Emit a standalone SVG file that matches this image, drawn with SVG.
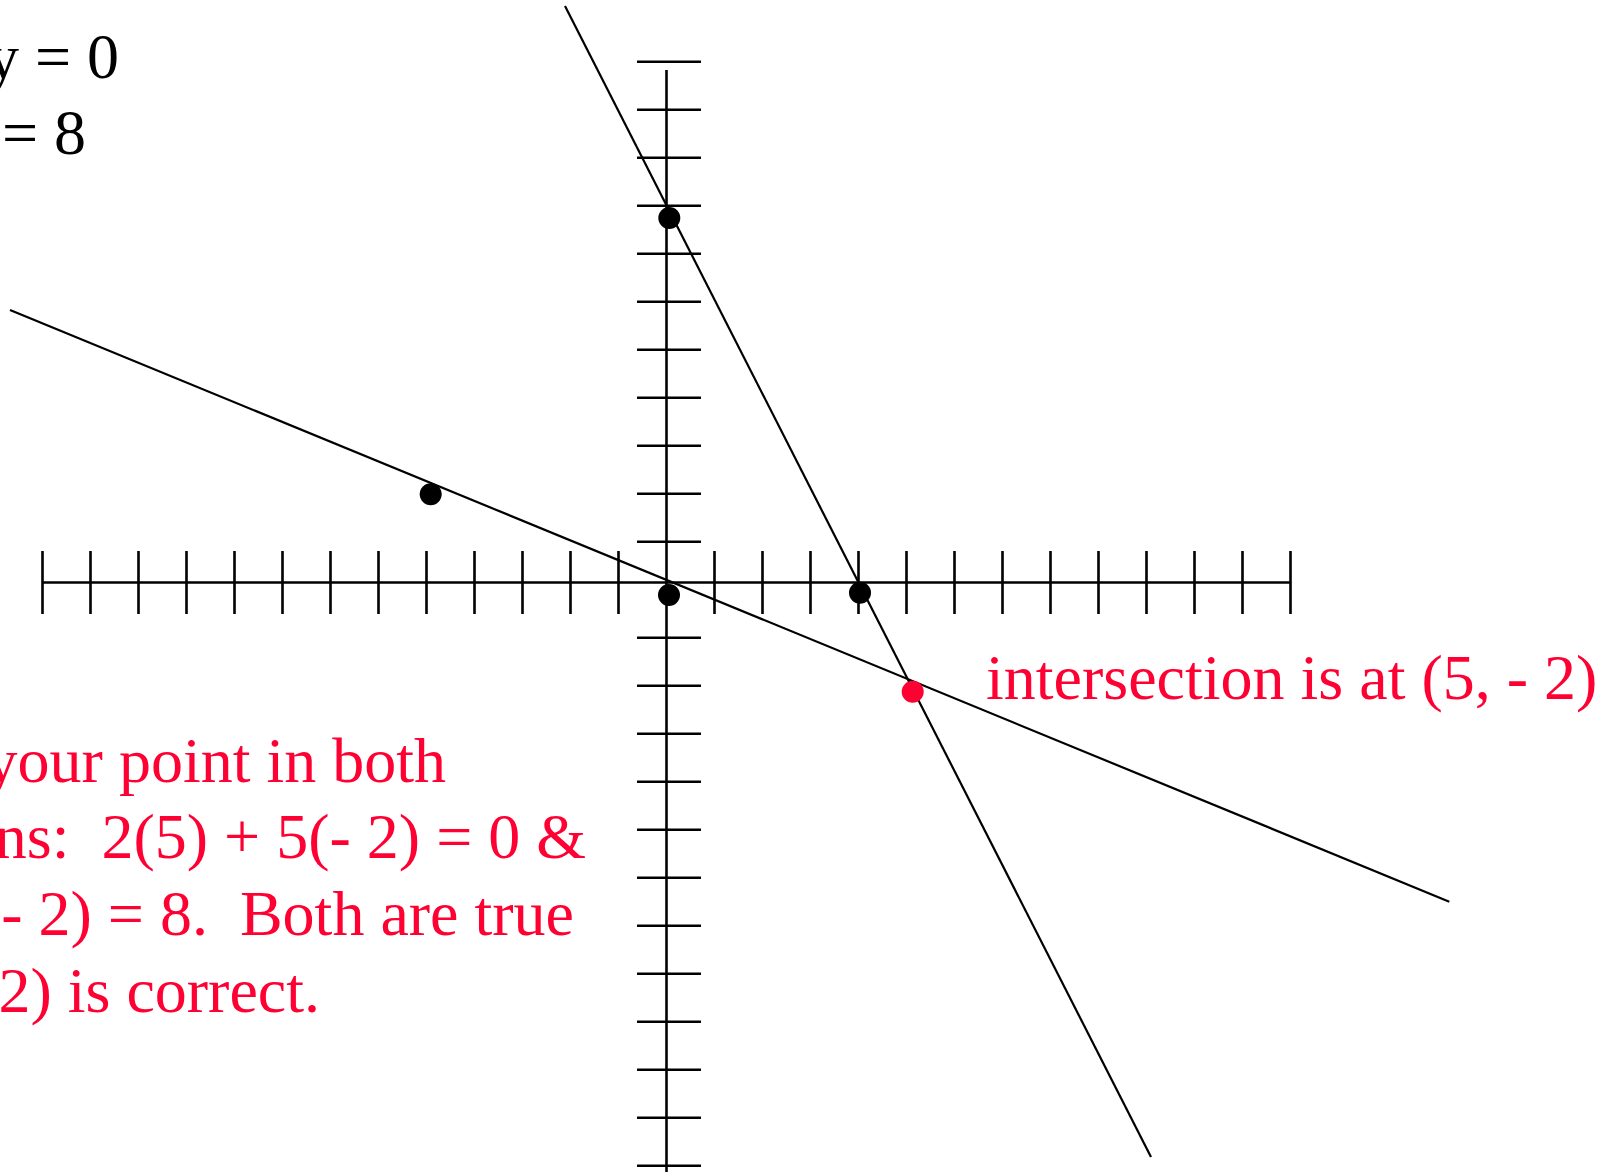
<svg xmlns="http://www.w3.org/2000/svg" width="1614" height="1172" viewBox="0 0 1614 1172">
<style>
.ax{stroke:#000;stroke-width:2.6;fill:none}
.ln{stroke:#000;stroke-width:2.2;fill:none}
.t{font-family:"Liberation Serif","Times New Roman",serif;font-size:64px}
.blk{fill:#000}
.red{fill:#ff0033}
</style>
<rect width="1614" height="1172" fill="#fff"/>
<g id="axes">
<line class="ax" x1="42.5" y1="582.5" x2="1290.5" y2="582.5"/>
<line class="ax" x1="666.5" y1="70" x2="666.5" y2="1172"/>
<path class="ax" d="M42.5 551v63M90.5 551v63M138.5 551v63M186.5 551v63M234.5 551v63M282.5 551v63M330.5 551v63M378.5 551v63M426.5 551v63M474.5 551v63M522.5 551v63M570.5 551v63M618.5 551v63M714.5 551v63M762.5 551v63M810.5 551v63M858.5 551v63M906.5 551v63M954.5 551v63M1002.5 551v63M1050.5 551v63M1098.5 551v63M1146.5 551v63M1194.5 551v63M1242.5 551v63M1290.5 551v63"/>
<path class="ax" d="M637 61.7h64M637 109.7h64M637 157.7h64M637 205.7h64M637 253.7h64M637 301.7h64M637 349.7h64M637 397.7h64M637 445.7h64M637 493.7h64M637 541.7h64M637 637.7h64M637 685.7h64M637 733.7h64M637 781.7h64M637 829.7h64M637 877.7h64M637 925.7h64M637 973.7h64M637 1021.7h64M637 1069.7h64M637 1117.7h64M637 1165.7h64"/>
</g>
<g id="connectors">
<line id="line-steep" class="ln" x1="565" y1="6" x2="1151" y2="1157"/>
<line id="line-shallow" class="ln" x1="10" y1="310" x2="1449.3" y2="901.7"/>
</g>
<g id="point-y-intercept"><circle class="blk" cx="669.3" cy="218" r="11"/></g>
<g id="point-origin"><circle class="blk" cx="669" cy="595" r="11"/></g>
<g id="point-x-intercept"><circle class="blk" cx="860" cy="592.7" r="11"/></g>
<g id="point-left"><circle class="blk" cx="430.7" cy="494.3" r="11"/></g>
<g id="point-intersection"><circle class="red" cx="912.7" cy="691.7" r="11"/></g>
<g id="equations">
<text class="t blk" x="119" y="78.3" text-anchor="end">y = 0</text>
<text class="t blk" x="86" y="154.3" text-anchor="end">= 8</text>
</g>
<g id="label-intersection">
<text class="t red" x="986" y="699">intersection is at (5, - 2)</text>
</g>
<g id="label-check">
<text class="t red" x="446" y="781.7" text-anchor="end">your point in both</text>
<text class="t red" x="586" y="858.3" text-anchor="end" xml:space="preserve">ns:  2(5) + 5(- 2) = 0 &amp;</text>
<text class="t red" x="574" y="935" text-anchor="end" xml:space="preserve">- 2) = 8.  Both are true</text>
<text class="t red" x="320" y="1011.7" text-anchor="end">2) is correct.</text>
</g>
</svg>
